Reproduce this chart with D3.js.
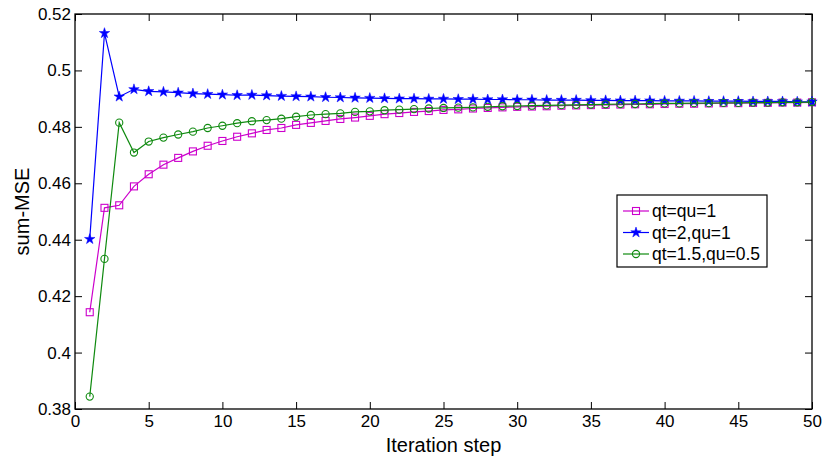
<!DOCTYPE html>
<html>
<head>
<meta charset="utf-8">
<script src="https://cdn.jsdelivr.net/npm/d3@7/dist/d3.min.js"></script>
<style>
  html, body { margin: 0; padding: 0; background: #fff; }
  svg { display: block; }
  text { font-family: "Liberation Sans", Arial, sans-serif; fill: #000; }
</style>
</head>
<body>
<svg id="chart" width="822" height="457"></svg>
<script>
const steps = d3.range(1, 51);
const xTicks = [0, 5, 10, 15, 20, 25, 30, 35, 40, 45, 50];
const yTicks = [0.38, 0.40, 0.42, 0.44, 0.46, 0.48, 0.50, 0.52];
const yTickLabels = ["0.38", "0.4", "0.42", "0.44", "0.46", "0.48", "0.5", "0.52"];
const seriesNames = ["qt=qu=1", "qt=2,qu=1", "qt=1.5,qu=0.5"];

const magentaValues = [0.4143, 0.4513, 0.4522, 0.4589, 0.4632, 0.4666, 0.4690, 0.4713, 0.4733, 0.4750,
  0.4765, 0.4777, 0.4789, 0.4796, 0.4807, 0.4814, 0.4821, 0.4828, 0.4833, 0.4839,
  0.4845, 0.4849, 0.4853, 0.4856, 0.4860, 0.4862, 0.4865, 0.4867, 0.4869, 0.4871,
  0.4872, 0.4873, 0.4875, 0.4876, 0.4877, 0.4878, 0.4879, 0.4880, 0.4880, 0.4881,
  0.4882, 0.4882, 0.4883, 0.4884, 0.4884, 0.4885, 0.4885, 0.4886, 0.4886, 0.4887];
const blueValues = [0.4402, 0.5132, 0.4907, 0.4933, 0.4926, 0.4924, 0.4921, 0.4918, 0.4916, 0.4914,
  0.4912, 0.4913, 0.4911, 0.4909, 0.4908, 0.4907, 0.4905, 0.4904, 0.4903, 0.4902,
  0.4901, 0.4900, 0.4900, 0.4899, 0.4899, 0.4898, 0.4898, 0.4897, 0.4897, 0.4896,
  0.4896, 0.4895, 0.4895, 0.4895, 0.4894, 0.4894, 0.4893, 0.4893, 0.4893, 0.4892,
  0.4892, 0.4892, 0.4891, 0.4891, 0.4891, 0.4890, 0.4890, 0.4890, 0.4889, 0.4889];
const greenValues = [0.3844, 0.4332, 0.4815, 0.4709, 0.4748, 0.4762, 0.4773, 0.4783, 0.4796, 0.4804,
  0.4813, 0.4820, 0.4824, 0.4829, 0.4836, 0.4842, 0.4845, 0.4848, 0.4853, 0.4855,
  0.4859, 0.4861, 0.4863, 0.4865, 0.4867, 0.4868, 0.4869, 0.4871, 0.4873, 0.4874,
  0.4875, 0.4876, 0.4877, 0.4878, 0.4879, 0.4880, 0.4881, 0.4881, 0.4882, 0.4883,
  0.4883, 0.4884, 0.4884, 0.4885, 0.4885, 0.4886, 0.4886, 0.4887, 0.4887, 0.4888];

const L = 75, R = 812, T = 14, B = 409;
const svg = d3.select("#chart");
const x = d3.scaleLinear().domain([0, 50]).range([L, R]);
const y = d3.scaleLinear().domain([0.38, 0.52]).range([B, T]);

const series = [
  { name: seriesNames[0], values: magentaValues, color: "#cc00cc", marker: "square" },
  { name: seriesNames[1], values: blueValues, color: "#0000ff", marker: "star" },
  { name: seriesNames[2], values: greenValues, color: "#0f8a0f", marker: "circle" }
];

const tickLen = 7;
const gx = svg.append("g").attr("transform", `translate(0,${B})`)
  .call(d3.axisBottom(x).tickValues(xTicks).tickSizeInner(-tickLen).tickSizeOuter(0).tickPadding(6));
const gxt = svg.append("g").attr("transform", `translate(0,${T})`)
  .call(d3.axisTop(x).tickValues(xTicks).tickSizeInner(-tickLen).tickSizeOuter(0).tickFormat(""));
const gy = svg.append("g").attr("transform", `translate(${L},0)`)
  .call(d3.axisLeft(y).tickValues(yTicks).tickSizeInner(-tickLen).tickSizeOuter(0).tickPadding(4)
    .tickFormat((d, i) => yTickLabels[i]));
const gyr = svg.append("g").attr("transform", `translate(${R},0)`)
  .call(d3.axisRight(y).tickValues(yTicks).tickSizeInner(-tickLen).tickSizeOuter(0).tickFormat(""));
[gx, gxt, gy, gyr].forEach(g => {
  g.select(".domain").remove();
  g.selectAll(".tick line").attr("stroke", "#000").attr("stroke-width", 1);
  g.selectAll(".tick text").style("font-size", "17px").style("font-family", "'Liberation Sans', Arial, sans-serif");
});
gx.selectAll(".tick text").attr("dy", "0.71em");

svg.append("rect").attr("x", L).attr("y", T).attr("width", R - L).attr("height", B - T)
  .attr("fill", "none").attr("stroke", "#000").attr("stroke-width", 1.3);

svg.append("text").attr("x", (L + R) / 2).attr("y", 452).attr("text-anchor", "middle")
  .style("font-size", "20px").text("Iteration step");
svg.append("text").attr("transform", `translate(29,${(T + B) / 2}) rotate(-90)`)
  .attr("text-anchor", "middle").style("font-size", "20px").text("sum-MSE");

const line = d3.line().x((d, i) => x(steps[i])).y(d => y(d));

function drawMarker(g, type, color, cx, cy) {
  if (type === "square") {
    g.append("rect").attr("x", cx - 3.5).attr("y", cy - 3.5).attr("width", 7).attr("height", 7)
      .attr("fill", "none").attr("stroke", color).attr("stroke-width", 1.1);
  } else if (type === "circle") {
    g.append("circle").attr("cx", cx).attr("cy", cy).attr("r", 3.6)
      .attr("fill", "none").attr("stroke", color).attr("stroke-width", 1.1);
  } else {
    g.append("path").attr("d", d3.symbol().type(d3.symbolStar).size(34)())
      .attr("transform", `translate(${cx},${cy})`).attr("fill", color).attr("stroke", color).attr("stroke-width", 0.5);
  }
}

series.forEach(s => {
  const g = svg.append("g");
  g.append("path").datum(s.values).attr("d", line).attr("fill", "none")
    .attr("stroke", s.color).attr("stroke-width", 1.2);
  s.values.forEach((v, i) => drawMarker(g, s.marker, s.color, x(steps[i]), y(v)));
});

const lg = svg.append("g");
lg.append("rect").attr("x", 617).attr("y", 195).attr("width", 150).attr("height", 72)
  .attr("fill", "#fff").attr("stroke", "#000").attr("stroke-width", 1.2);
series.forEach((s, i) => {
  const cy = 211 + i * 21.5;
  lg.append("line").attr("x1", 623).attr("x2", 649).attr("y1", cy).attr("y2", cy)
    .attr("stroke", s.color).attr("stroke-width", 1.2);
  drawMarker(lg, s.marker, s.color, 636, cy);
  lg.append("text").attr("x", 652).attr("y", cy).attr("dy", "0.35em")
    .style("font-size", "17.5px").text(s.name);
});
</script>
</body>
</html>
